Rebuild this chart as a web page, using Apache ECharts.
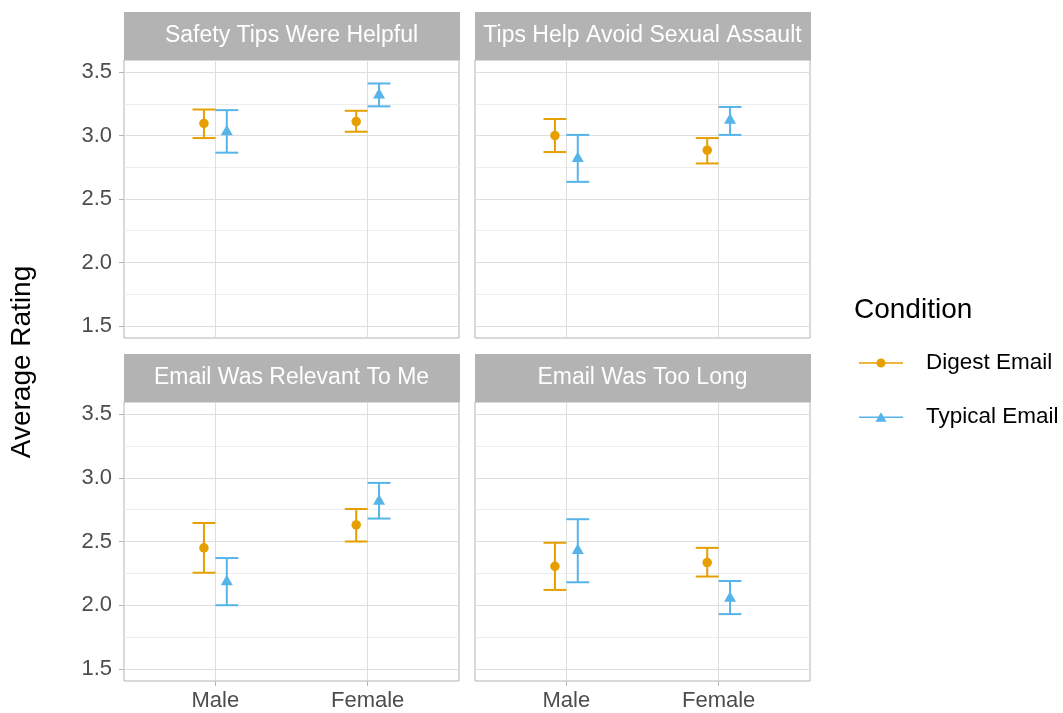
<!DOCTYPE html>
<html>
<head>
<meta charset="utf-8">
<script src="https://cdn.jsdelivr.net/npm/echarts@6/dist/echarts.min.js"></script>
<style>
html, body { margin: 0; padding: 0; background: #fff; }
#main { width: 1063px; height: 713px; }
</style>
</head>
<body>
<div id="main"></div>
<script>
var categories = ['Male', 'Female'];
var panelTitles = ['Safety Tips Were Helpful', 'Tips Help Avoid Sexual Assault', 'Email Was Relevant To Me', 'Email Was Too Long'];
var conditions = ['Digest Email', 'Typical Email'];
var yTicks = [1.5, 2.0, 2.5, 3.0, 3.5];
var yMinorTicks = [1.75, 2.25, 2.75, 3.25];

// one row per panel, [Male, Female]
var digestMean = [[3.095, 3.11], [3.00, 2.885], [2.45, 2.63], [2.305, 2.335]];
var digestLow = [[2.98, 3.03], [2.87, 2.78], [2.255, 2.50], [2.12, 2.225]];
var digestHigh = [[3.205, 3.195], [3.13, 2.98], [2.645, 2.755], [2.49, 2.45]];
var typicalMean = [[3.03, 3.32], [2.82, 3.12], [2.185, 2.815], [2.43, 2.055]];
var typicalLow = [[2.865, 3.23], [2.635, 3.005], [2.0, 2.68], [2.18, 1.93]];
var typicalHigh = [[3.20, 3.41], [3.005, 3.225], [2.37, 2.96], [2.675, 2.19]];

var colors = ['#E69F00', '#56B4E9'];
var dodge = [-0.075, 0.075];
var capWidth = 0.15;

var panels = [
	{left: 124, top: 60, height: 278, stripTop: 12},
	{left: 475, top: 60, height: 278, stripTop: 12},
	{left: 124, top: 402, height: 279, stripTop: 354},
	{left: 475, top: 402, height: 279, stripTop: 354}
];
var panelWidth = 335;
var stripHeight = 48;
var font = '"Liberation Sans", Arial, sans-serif';

function renderErrorBar(params, api) {
	var x = api.value(0);
	var lo = api.coord([x, api.value(1)]);
	var hi = api.coord([x, api.value(2)]);
	var half = api.size([capWidth, 0])[0] / 2;
	var style = {stroke: api.visual('color'), lineWidth: 2, fill: null};
	return {
		type: 'group',
		children: [
			{type: 'line', shape: {x1: lo[0], y1: lo[1], x2: hi[0], y2: hi[1]}, style: style},
			{type: 'line', shape: {x1: lo[0] - half, y1: lo[1], x2: lo[0] + half, y2: lo[1]}, style: style},
			{type: 'line', shape: {x1: hi[0] - half, y1: hi[1], x2: hi[0] + half, y2: hi[1]}, style: style}
		]
	};
}

var grids = [], xAxes = [], yAxes = [], series = [], graphics = [];
var means = [digestMean, typicalMean];
var lows = [digestLow, typicalLow];
var highs = [digestHigh, typicalHigh];

for (var p = 0; p < panels.length; p++) {
	var pan = panels[p];
	var isLeft = (p % 2 === 0);
	var isBottom = (p >= 2);
	grids.push({
		left: pan.left, top: pan.top, width: panelWidth, height: pan.height,
		show: true, borderColor: '#b3b3b3', borderWidth: 1, backgroundColor: '#fff'
	});
	xAxes.push({
		type: 'value', gridIndex: p, min: 0.4, max: 2.6,
		axisLine: {show: false},
		axisTick: {show: isBottom, length: 5, customValues: [1, 2], lineStyle: {color: '#b3b3b3'}},
		axisLabel: {
			show: isBottom, customValues: [1, 2], margin: 9,
			fontSize: 22, color: '#4d4d4d', fontFamily: font,
			formatter: function (v) { return categories[Math.round(v) - 1]; }
		},
		splitLine: {show: true, lineStyle: {color: '#dedede', width: 1}}
	});
	yAxes.push({
		type: 'value', gridIndex: p, min: 1.405, max: 3.595,
		axisLine: {show: false},
		axisTick: {show: isLeft, length: 5, customValues: yTicks, lineStyle: {color: '#b3b3b3'}},
		axisLabel: {
			show: isLeft, customValues: yTicks, margin: 12,
			fontSize: 22, color: '#4d4d4d', fontFamily: font,
			formatter: function (v) { return v.toFixed(1); }
		},
		splitLine: {show: true, lineStyle: {color: '#dedede', width: 1}}
	});
	// minor grid lines
	yAxes.push({
		type: 'value', gridIndex: p, min: 1.405, max: 3.595, position: 'left',
		axisLine: {show: false},
		axisTick: {show: false, customValues: yMinorTicks},
		axisLabel: {show: false, customValues: yMinorTicks},
		splitLine: {show: true, lineStyle: {color: '#ededed', width: 1}}
	});

	for (var g = 0; g < 2; g++) {
		var barData = [], pointData = [];
		for (var c = 0; c < categories.length; c++) {
			var x = c + 1 + dodge[g];
			barData.push([x, lows[g][p][c], highs[g][p][c]]);
			pointData.push([x, means[g][p][c]]);
		}
		series.push({
			name: conditions[g], type: 'custom',
			xAxisIndex: p, yAxisIndex: p * 2,
			renderItem: renderErrorBar,
			itemStyle: {color: colors[g]},
			encode: {x: 0, y: [1, 2]},
			data: barData, z: 2, silent: true
		});
		series.push({
			name: conditions[g], type: 'scatter',
			xAxisIndex: p, yAxisIndex: p * 2,
			symbol: g === 0 ? 'circle' : 'triangle',
			symbolSize: g === 0 ? 9.5 : [12, 10.5],
			symbolOffset: g === 0 ? [0, 0] : [0, -1.75],
			itemStyle: {color: colors[g], opacity: 1},
			data: pointData, z: 3, silent: true
		});
	}

	graphics.push({
		type: 'rect', z: 100,
		shape: {x: pan.left, y: pan.stripTop, width: panelWidth + 1, height: stripHeight},
		style: {fill: '#b3b3b3'}
	});
	graphics.push({
		type: 'text', z: 101,
		x: pan.left + panelWidth / 2, y: pan.stripTop + stripHeight / 2,
		style: {
			text: panelTitles[p], fill: '#fff', fontSize: 23, fontFamily: font,
			textAlign: 'center', textVerticalAlign: 'middle'
		}
	});
}

graphics.push({
	type: 'text', z: 101, x: 22, y: 362, rotation: Math.PI / 2,
	style: {
		text: 'Average Rating', fill: '#000', fontSize: 28, fontFamily: font,
		textAlign: 'center', textVerticalAlign: 'middle'
	}
});

var iconDigest = 'path://M0,4.2 H44 V5.8 H0 Z M17.5,5 A4.5,4.5 0 1,1 26.5,5 A4.5,4.5 0 1,1 17.5,5 Z';
var iconTypical = 'path://M0,4.2 H44 V5.8 H0 Z M16.5,9.5 L22,0 L27.5,9.5 Z';

function makeLegend(name, icon, top) {
	return {
		data: [{name: name, icon: icon}],
		left: 859, top: top, padding: 0,
		itemWidth: 44, itemHeight: 9.5,
		selectedMode: false,
		textStyle: {fontSize: 22.5, color: '#000', fontFamily: font, lineHeight: 26, padding: [0, 0, 0, 18]}
	};
}

var chart = echarts.init(document.getElementById('main'));
chart.setOption({
	animation: false,
	backgroundColor: '#fff',
	title: {
		text: 'Condition', left: 854, top: 296, padding: 0,
		textStyle: {fontSize: 28, fontWeight: 'normal', color: '#000', fontFamily: font, lineHeight: 28}
	},
	legend: [
		makeLegend(conditions[0], iconDigest, 350),
		makeLegend(conditions[1], iconTypical, 404)
	],
	grid: grids,
	xAxis: xAxes,
	yAxis: yAxes,
	series: series,
	graphic: graphics
});
</script>
</body>
</html>
